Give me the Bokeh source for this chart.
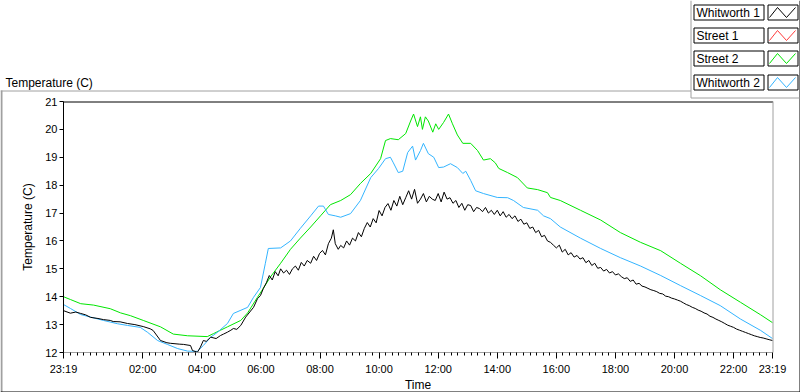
from bokeh.plotting import figure
from bokeh.models import FixedTicker, LinearAxis, Range1d, ColumnDataSource
from bokeh.embed import file_html
from bokeh.resources import INLINE
from bokeh.core.properties import value

# ---------------- data ----------------
# x = minutes elapsed since 23:19 (start of log)
x_tick_minutes = [0, 161, 281, 401, 521, 641, 761, 881, 1001, 1121, 1241, 1361, 1440]
x_tick_labels = ["23:19", "02:00", "04:00", "06:00", "08:00", "10:00", "12:00",
                 "14:00", "16:00", "18:00", "20:00", "22:00", "23:19"]
y_ticks = [12, 13, 14, 15, 16, 17, 18, 19, 20, 21]

series_names = ["Whitworth 1", "Street 1", "Street 2", "Whitworth 2"]
series_colors = ["#000000", "#ff3b3b", "#00e600", "#33b4ff"]

whitworth1_min = [0, 14, 25, 35, 45, 55, 70, 81, 95, 101, 115, 130, 145, 162, 176, 182, 197, 210, 217, 235,
                  244, 258, 262, 272, 278, 284, 290, 299, 310, 319, 325, 333, 340, 345, 352, 360, 370, 386, 394, 400,
                  406, 412, 418, 424, 430, 436, 441, 447, 453, 459, 465, 471, 477, 483, 489, 495, 502, 508, 514, 520,
                  526, 532, 538, 544, 548, 552, 558, 563, 569, 575, 581, 587, 593, 599, 605, 611, 617, 623, 629, 635,
                  641, 647, 653, 659, 665, 671, 677, 683, 689, 695, 701, 707, 713, 719, 725, 731, 737, 743, 749, 755,
                  761, 767, 773, 779, 785, 791, 797, 803, 809, 815, 821, 827, 833, 839, 845, 851, 857, 863, 869, 875,
                  881, 887, 893, 899, 905, 911, 917, 923, 929, 935, 941, 947, 953, 959, 965, 971, 977, 983, 989, 995,
                  1001, 1007, 1013, 1019, 1025, 1031, 1037, 1043, 1049, 1055, 1061, 1067, 1073, 1079, 1085, 1091, 1097,
                  1103, 1109, 1115, 1121, 1127, 1133, 1139, 1145, 1151, 1157, 1163, 1169, 1175, 1181, 1187, 1193, 1199,
                  1205, 1211, 1217, 1223, 1229, 1235, 1241, 1247, 1253, 1259, 1265, 1271, 1277, 1283, 1289, 1295, 1301,
                  1307, 1313, 1319, 1325, 1331, 1337, 1343, 1349, 1355, 1361, 1367, 1373, 1379, 1385, 1391, 1397, 1403,
                  1409, 1415, 1421, 1427, 1433, 1440]
whitworth1_temp = [13.5, 13.41, 13.45, 13.4, 13.35, 13.26, 13.22, 13.18, 13.15, 13.11, 13.1, 13.04, 13.0, 12.93, 12.85, 12.79, 12.43, 12.35, 12.33, 12.3,
                   12.29, 12.25, 12.07, 12.01, 12.19, 12.43, 12.4, 12.55, 12.5, 12.61, 12.66, 12.73, 12.8, 12.86, 12.83, 12.97, 13.27, 13.62, 13.93, 14.04,
                   14.3, 14.5, 14.76, 14.6, 14.9, 14.75, 15.0, 14.85, 14.95, 14.8, 15.0, 15.1, 14.95, 15.23, 15.1, 15.3, 15.2, 15.45, 15.3, 15.55,
                   15.66, 15.5, 15.9, 16.1, 16.4, 15.9, 15.7, 15.84, 15.75, 16.0, 15.85, 16.1, 16.0, 16.3, 16.15, 16.45, 16.66, 16.5, 16.8, 16.65,
                   17.09, 16.9, 17.2, 17.34, 17.1, 17.45, 17.25, 17.6, 17.3, 17.55, 17.8, 17.5, 17.85, 17.35, 17.5, 17.7, 17.4, 17.6, 17.5, 17.45,
                   17.7, 17.4, 17.75, 17.5, 17.55, 17.35, 17.45, 17.2, 17.35, 17.1, 17.3, 17.27, 17.05, 17.2, 17.16, 17.05, 17.2, 17.0, 17.1, 16.95,
                   17.1, 16.9, 17.05, 16.85, 16.95, 16.8, 16.9, 16.7, 16.78, 16.6, 16.65, 16.45, 16.5, 16.3, 16.38, 16.15, 16.2, 16.0, 15.95, 15.85,
                   15.75, 15.85, 15.6, 15.7, 15.5, 15.58, 15.42, 15.48, 15.35, 15.4, 15.22, 15.3, 15.12, 15.2, 15.02, 15.05, 14.92,
                   14.98, 14.85, 14.9, 14.78, 14.82, 14.72, 14.65, 14.68, 14.55, 14.6, 14.45, 14.48, 14.38, 14.35, 14.3, 14.25, 14.22,
                   14.18, 14.12, 14.1, 14.02, 14.0, 13.95, 13.92, 13.88, 13.84, 13.78, 13.72, 13.68, 13.62, 13.58, 13.52, 13.48, 13.42,
                   13.38, 13.3, 13.26, 13.2, 13.15, 13.1, 13.04, 12.98, 12.94, 12.9, 12.84, 12.8, 12.76, 12.72, 12.68, 12.64, 12.6,
                   12.57, 12.54, 12.52, 12.49, 12.46, 12.43]

street1_min = []
street1_temp = []

street2_min = [0, 14, 35, 61, 95, 116, 136, 162, 197, 223, 252, 292, 305, 319, 333, 360, 374, 394, 404, 420,
               441, 461, 481, 502, 522, 542, 563, 583, 603, 624, 644, 654, 664, 680, 695, 705, 711, 719, 725, 729,
               735, 741, 750, 756, 762, 772, 782, 790, 800, 811, 827, 841, 853, 867, 877, 884, 902, 922, 942, 963,
               983, 989, 1009, 1050, 1091, 1131, 1172, 1213, 1253, 1294, 1334, 1375, 1416, 1440]
street2_temp = [14.0, 13.9, 13.75, 13.7, 13.57, 13.42, 13.32, 13.15, 12.92, 12.66, 12.6, 12.57, 12.68, 12.8, 12.92, 13.15, 13.42, 13.98, 14.25, 14.7,
                15.2, 15.7, 16.1, 16.5, 16.9, 17.3, 17.45, 17.66, 18.06, 18.42, 18.95, 19.6, 19.67, 19.63, 19.85, 20.3, 20.55, 20.1, 20.45, 20.0,
                20.45, 20.3, 19.9, 20.2, 20.0, 20.25, 20.55, 20.2, 19.8, 19.5, 19.5, 19.24, 18.9, 18.95, 18.8, 18.6, 18.45, 18.27, 17.9, 17.84,
                17.73, 17.56, 17.45, 17.1, 16.75, 16.3, 15.95, 15.65, 15.2, 14.75, 14.25, 13.8, 13.35, 13.07]

whitworth2_min = [0, 14, 35, 55, 81, 110, 130, 156, 171, 191, 211, 232, 252, 272, 284, 299, 313, 333, 345, 374,
                  386, 400, 410, 416, 441, 461, 481, 502, 518, 528, 538, 552, 563, 583, 603, 624, 640, 654, 664, 670,
                  680, 689, 699, 709, 715, 725, 731, 741, 752, 762, 772, 786, 800, 811, 817, 827, 837, 853, 881, 902,
                  914, 934, 963, 975, 989, 1009, 1050, 1091, 1131, 1172, 1213, 1253, 1294, 1334, 1375, 1416, 1440]
whitworth2_temp = [13.72, 13.58, 13.36, 13.27, 13.15, 13.03, 12.97, 12.9, 12.72, 12.43, 12.29, 12.14, 12.05, 12.04, 12.25, 12.55, 12.73, 13.04, 13.4, 13.62,
                   13.98, 14.33, 15.2, 15.73, 15.75, 16.0, 16.45, 16.9, 17.25, 17.25, 16.95, 16.9, 16.85, 16.98, 17.45, 18.27, 18.6, 18.95, 19.0, 18.8,
                   18.45, 18.5, 19.17, 19.4, 18.9, 19.24, 19.5, 19.13, 19.0, 18.63, 18.65, 18.77, 18.63, 18.42, 18.5, 18.17, 17.8, 17.7, 17.56, 17.55,
                   17.45, 17.2, 17.1, 16.9, 16.8, 16.5, 16.1, 15.73, 15.4, 15.1, 14.76, 14.4, 14.04, 13.68, 13.2, 12.79, 12.5]

# ---------------- layout (pixels) ----------------
FONT = "Liberation Sans"
W, H = 800, 392
PL, PR, PT, PB = 63, 772, 101, 352          # plot-area edges in canvas pixels
XMIN, XMAX, YMIN, YMAX = 0, 1440, 12, 21


def X(px):
    return XMIN + (px - PL) * (XMAX - XMIN) / (PR - PL)


def Y(py):
    return YMAX - (py - PT) * (YMAX - YMIN) / (PB - PT)


p = figure(width=W, height=H, output_backend="svg", toolbar_location=None,
           x_range=Range1d(X(0), X(W)), y_range=Range1d(Y(H), Y(0)),
           x_axis_location=None, y_axis_location=None, min_border=0)
p.grid.visible = False
p.background_fill_color = "white"
p.border_fill_color = "white"
p.outline_line_color = None
p.extra_x_ranges = {"px": Range1d(0, W)}
p.extra_y_ranges = {"py": Range1d(H, 0)}

# minor ticks on x: 9 per 2-hour interval, aligned to the majors
minor = []
step = 120 / 9
t = 161 - step
while t > 0.5:
    minor.append(round(t, 2))
    t -= step
for m in x_tick_minutes[1:-1]:
    for k in range(1, 9):
        v = m + k * step
        if v < 1439.5:
            minor.append(round(v, 2))

xa = LinearAxis(fixed_location=YMIN, bounds=(XMIN, XMAX), axis_label="Time")
xa.ticker = FixedTicker(ticks=x_tick_minutes, minor_ticks=minor)
xa.major_label_overrides = {m: lab for m, lab in zip(x_tick_minutes, x_tick_labels)}
xa.axis_line_color = "#a0a0a0"
xa.major_tick_line_color = "black"
xa.minor_tick_line_color = "black"
xa.major_tick_out = 6
xa.major_tick_in = 0
xa.minor_tick_out = 3
xa.minor_tick_in = 0
xa.major_label_standoff = 4
xa.axis_label_standoff = 0

ya = LinearAxis(fixed_location=XMIN, bounds=(YMIN, YMAX), axis_label="Temperature (C)")
ya.ticker = FixedTicker(ticks=y_ticks, minor_ticks=[])
ya.axis_line_color = "black"
ya.major_tick_line_color = "black"
ya.major_tick_out = 4
ya.major_tick_in = 0
ya.minor_tick_line_color = None
ya.major_label_standoff = 2
ya.axis_label_standoff = 7

for ax in (xa, ya):
    ax.major_label_text_font = FONT
    ax.major_label_text_font_size = "11px"
    ax.major_label_text_color = "#000000"
    ax.axis_label_text_font = FONT
    ax.axis_label_text_font_size = "12px"
    ax.axis_label_text_font_style = "normal"
    ax.axis_label_text_color = "#000000"

p.add_layout(xa, "below")
p.add_layout(ya, "left")

# ---------------- series ----------------
srcs = [
    (street2_min, street2_temp, series_colors[2]),
    (whitworth2_min, whitworth2_temp, series_colors[3]),
    (street1_min, street1_temp, series_colors[1]),
    (whitworth1_min, whitworth1_temp, series_colors[0]),
]
for xs, ys, c in srcs:
    if xs:
        p.line(x="t", y="v", source=ColumnDataSource(dict(t=xs, v=ys)), line_color=c, line_width=1)

# ---------------- panel decorations (canvas pixels) ----------------
PX = dict(x_range_name="px", y_range_name="py")

# plot-area border: top black, right grey (left/bottom are the axes)
p.segment(x0=[PL], y0=[PT + 0.5], x1=[PR + 0.5], y1=[PT + 0.5], line_color="black", line_width=1, **PX)
p.segment(x0=[PR + 0.5], y0=[PT], x1=[PR + 0.5], y1=[PB], line_color="#a0a0a0", line_width=1, **PX)

# outer panel frame
p.segment(x0=[0], y0=[90.5], x1=[690.5], y1=[90.5], line_color="#a0a0a0", line_width=1, **PX)
p.segment(x0=[1], y0=[90], x1=[1], y1=[H], line_color="#a0a0a0", line_width=2, **PX)
p.segment(x0=[0], y0=[391.5], x1=[W], y1=[391.5], line_color="black", line_width=1, **PX)
p.segment(x0=[799.5], y0=[0], x1=[799.5], y1=[H], line_color="black", line_width=1, **PX)
p.segment(x0=[690.5], y0=[0], x1=[690.5], y1=[97.5], line_color="#a0a0a0", line_width=1, **PX)
p.segment(x0=[690.5], y0=[97.5], x1=[799], y1=[97.5], line_color="#a0a0a0", line_width=1, **PX)

# graph caption
p.text(x=[5], y=[82], text=["Temperature (C)"], text_font=value(FONT), text_font_size="12px",
       text_color="black", text_baseline="middle", text_align="left", **PX)

# legend
tops = [4, 27, 50, 74]
p.quad(left=[693.5] * 4, right=[763.5] * 4, top=[t + 0.5 for t in tops], bottom=[t + 15.5 for t in tops],
       fill_color="white", line_color="black", line_width=1, **PX)
p.quad(left=[767.5] * 4, right=[797.5] * 4, top=[t + 0.5 for t in tops], bottom=[t + 15.5 for t in tops],
       fill_color="white", line_color="black", line_width=1, **PX)
p.text(x=[696] * 4, y=[t + 8.5 for t in tops], text=series_names, text_font=value(FONT),
       text_font_size="12px", text_color="black", text_baseline="middle", text_align="left", **PX)
p.multi_line(xs=[[769, 777, 786, 795] for t in tops],
             ys=[[t + 13, t + 3, t + 13, t + 3] for t in tops],
             line_color=series_colors, line_width=1, **PX)

open("out.html", "w").write(file_html(p, INLINE))
